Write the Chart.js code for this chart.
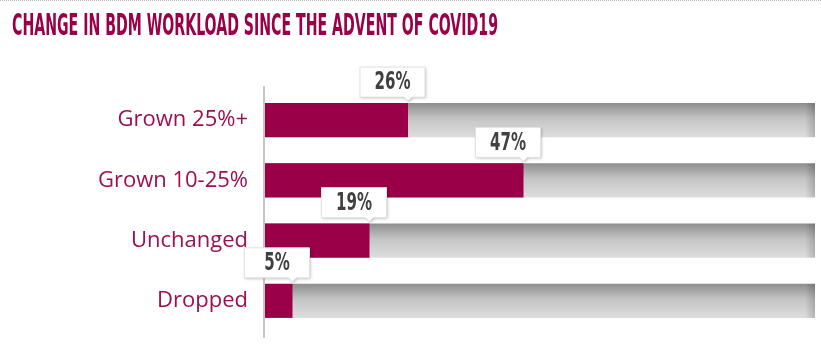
<!DOCTYPE html>
<html>
<head>
<meta charset="utf-8">
<script src="https://cdn.jsdelivr.net/npm/chart.js@4/dist/chart.umd.min.js"></script>
<style>
  html, body { margin:0; padding:0; background:#fff; }
  #wrap { position:relative; width:821px; height:361px; overflow:hidden; border-top:1px dotted #b8b8b8; box-sizing:border-box; }
  #title { position:absolute; left:12px; top:9px; margin:0; font-family:"Liberation Sans Narrow","DejaVu Sans Condensed",sans-serif; font-weight:bold; font-size:30px; line-height:30px; color:#990047; white-space:nowrap; transform-origin:0 0; }
  #c { position:absolute; left:0; top:0; }
</style>
</head>
<body>
<div id="wrap">
  <canvas id="c" width="821" height="361"></canvas>
  <div id="title">CHANGE IN BDM WORKLOAD SINCE THE ADVENT OF COVID19</div>
</div>
<script>
const categories = ["Grown 25%+", "Grown 10-25%", "Unchanged", "Dropped"];
const shares = [26, 47, 19, 5];
const totals = [100, 100, 100, 100];
const labelTexts = ["26%", "47%", "19%", "5%"];

// condense title to the width seen in the reference
(function(){
  const t = document.getElementById('title');
  const w = t.getBoundingClientRect().width;
  const target = 486;
  t.style.transform = 'scaleX(' + (target / w) + ')';
})();

const CRIMSON = '#990047';

function grayGradient(ctx) {
  const chart = ctx.chart;
  const y = chart.scales && chart.scales.y;
  if (!y || !chart.chartArea) return '#c8c8c8';
  const cy = y.getPixelForValue(ctx.dataIndex);
  const h = 36;
  const g = chart.ctx.createLinearGradient(0, cy - h/2, 0, cy + h/2);
  g.addColorStop(0, '#8a8a8a');
  g.addColorStop(0.12, '#9a9a9a');
  g.addColorStop(0.45, '#c4c4c4');
  g.addColorStop(0.85, '#d8d8d8');
  g.addColorStop(1, '#dedede');
  return g;
}

const edgePlugin = {
  id: 'edgeShade',
  afterDatasetDraw(chart, args) {
    if (args.index !== 1) return;
    const c = chart.ctx;
    args.meta.data.forEach(el => {
      const top = el.y - el.height/2, right = el.x;
      const g = c.createLinearGradient(right - 10, 0, right, 0);
      g.addColorStop(0, 'rgba(0,0,0,0)');
      g.addColorStop(1, 'rgba(0,0,0,0.18)');
      c.save();
      c.fillStyle = g;
      c.fillRect(right - 10, top, 10, el.height);
      c.restore();
    });
  }
};

const axisPlugin = {
  id: 'axisLine',
  beforeDatasetsDraw(chart) {
    const c = chart.ctx, a = chart.chartArea;
    c.save();
    c.strokeStyle = '#c4c4c4';
    c.lineWidth = 2;
    c.beginPath();
    c.moveTo(a.left - 1, a.top - 4);
    c.lineTo(a.left - 1, a.bottom + 7);
    c.stroke();
    c.restore();
  }
};

const calloutPlugin = {
  id: 'callouts',
  afterDatasetsDraw(chart) {
    const c = chart.ctx;
    const meta = chart.getDatasetMeta(0);
    c.save();
    c.font = 'bold 24px "Liberation Sans Narrow", "DejaVu Sans Condensed", sans-serif';
    const sx = Math.min(1, 36 / c.measureText('26%').width);
    c.restore();
    meta.data.forEach((el, i) => {
      const x = el.x;
      const barTop = el.y - el.height/2;
      const bottom = barTop - 6;
      const top = bottom - 30;
      const left = x - 48;
      const right = x + 17;
      c.save();
      c.shadowColor = 'rgba(0,0,0,0.28)';
      c.shadowBlur = 3;
      c.shadowOffsetX = 1;
      c.shadowOffsetY = 1;
      c.fillStyle = '#ffffff';
      c.beginPath();
      c.moveTo(left, top);
      c.lineTo(right, top);
      c.lineTo(right, bottom);
      c.lineTo(x + 4, bottom);
      c.lineTo(x, bottom + 4);
      c.lineTo(x - 4, bottom);
      c.lineTo(left, bottom);
      c.closePath();
      c.fill();
      c.shadowColor = 'rgba(0,0,0,0)';
      c.strokeStyle = '#e2e2e2';
      c.lineWidth = 1;
      c.stroke();
      c.fillStyle = '#404040';
      c.font = 'bold 24px "Liberation Sans Narrow", "DejaVu Sans Condensed", sans-serif';
      c.textAlign = 'center';
      c.textBaseline = 'middle';
      c.translate((left + right) / 2, (top + bottom) / 2 + 1);
      c.scale(sx, 1);
      c.fillText(labelTexts[i], 0, 0);
      c.restore();
    });
  }
};

new Chart(document.getElementById('c'), {
  type: 'bar',
  data: {
    labels: categories,
    datasets: [
      { data: shares, backgroundColor: CRIMSON, grouped: false, order: 1,
        categoryPercentage: 1, barPercentage: 0.565, borderWidth: 0 },
      { data: totals, backgroundColor: grayGradient, grouped: false, order: 2,
        categoryPercentage: 1, barPercentage: 0.565, borderWidth: 0 }
    ]
  },
  options: {
    indexAxis: 'y',
    responsive: false,
    animation: false,
    devicePixelRatio: 1,
    layout: { padding: { left: 0, right: 6, top: 89, bottom: 31 } },
    plugins: { legend: { display: false }, tooltip: { enabled: false }, title: { display: false } },
    scales: {
      x: { min: 0, max: 100, display: false },
      y: {
        grid: { display: false, drawTicks: false },
        border: { display: false },
        ticks: {
          color: '#9b1052',
          padding: 17,
          font: { family: '"Open Sans", sans-serif', size: 22 }
        },
        afterFit(scale) { scale.width = 265; }
      }
    }
  },
  plugins: [axisPlugin, edgePlugin, calloutPlugin]
});
</script>
</body>
</html>
